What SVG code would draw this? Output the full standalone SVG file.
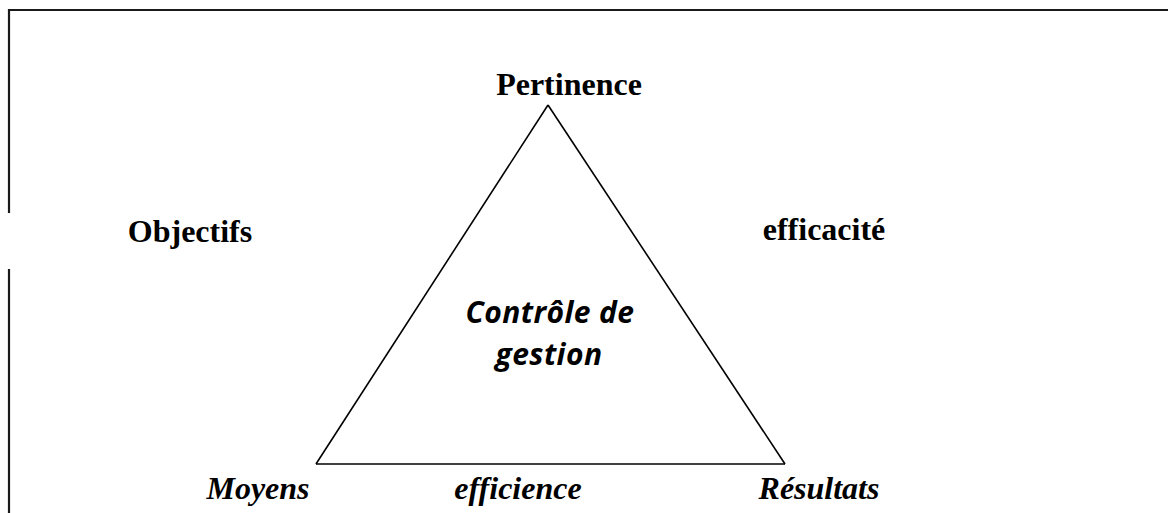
<svg xmlns="http://www.w3.org/2000/svg" width="1168" height="513" viewBox="0 0 1168 513">
  <style>
    .frame { stroke: #1a1a1a; stroke-width: 2.2; fill: none; }
    .edge { stroke: #000; stroke-width: 1.6; fill: none; stroke-linejoin: miter; }
    .lbl { font-family: "Liberation Serif", "Times New Roman", serif; font-size: 32px; font-weight: bold; fill: #000; text-anchor: middle; }
    .it { font-style: italic; }
    .core { font-family: "Open Sans", "Liberation Sans", sans-serif; font-size: 30px; font-weight: bold; font-style: italic; fill: #000; text-anchor: middle; letter-spacing: 0.4px; }
  </style>
  <rect width="1168" height="513" fill="#fff"/>

  <!-- page frame: top rule and left rule with a gap beside "Objectifs" -->
  <g id="frame">
    <line class="frame" x1="8.5" y1="10" x2="1168" y2="10"/>
    <line class="frame" x1="9" y1="9" x2="9" y2="213"/>
    <line class="frame" x1="9" y1="269" x2="9" y2="513"/>
  </g>

  <!-- triangle edges -->
  <g id="connectors">
    <line class="edge" x1="548" y1="105" x2="316" y2="464"/>
    <line class="edge" x1="548" y1="105" x2="785" y2="464"/>
    <line class="edge" x1="316" y1="464" x2="785" y2="464"/>
  </g>

  <g id="pertinence"><text class="lbl" x="569" y="95">Pertinence</text></g>
  <g id="objectifs"><text class="lbl" x="190" y="242">Objectifs</text></g>
  <g id="efficacite"><text class="lbl" x="824" y="240">efficacité</text></g>
  <g id="moyens"><text class="lbl it" x="258" y="499">Moyens</text></g>
  <g id="efficience"><text class="lbl it" x="518" y="499">efficience</text></g>
  <g id="resultats"><text class="lbl it" x="819" y="499">Résultats</text></g>
  <g id="controle">
    <text class="core" x="550" y="323">Contrôle de</text>
    <text class="core" x="549" y="365">gestion</text>
  </g>
</svg>
